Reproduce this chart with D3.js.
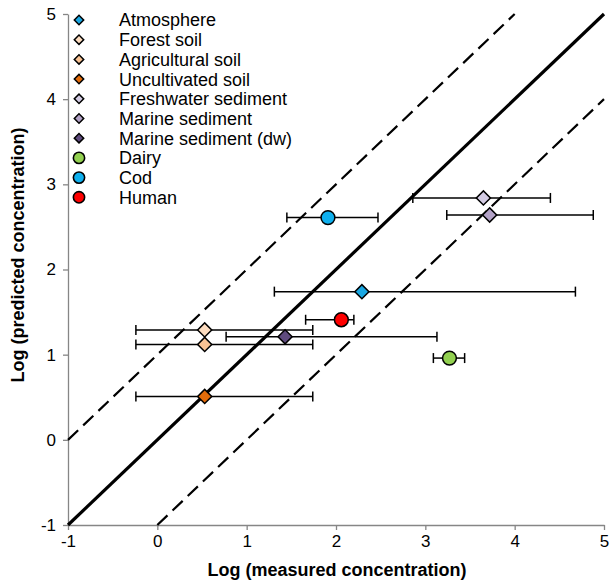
<!DOCTYPE html>
<html><head><meta charset="utf-8">
<script src="https://cdn.jsdelivr.net/npm/d3@7"></script>
<style>body{margin:0;background:#fff}svg{display:block}text{font-family:"Liberation Sans",Arial,sans-serif}</style>
</head><body><svg id="c" width="611" height="582"></svg>
<script>
const names = ["Atmosphere","Forest soil","Agricultural soil","Uncultivated soil","Freshwater sediment","Marine sediment","Marine sediment (dw)","Dairy","Cod","Human"];
const shapes = ["diamond","diamond","diamond","diamond","diamond","diamond","diamond","circle","circle","circle"];
const colors = ["#1AA7E2","#FDDCBF","#FAC394","#E46C0A","#D3CBE3","#B3A2C7","#5F4B7E","#92D050","#0FB0EE","#FF0000"];
const measured = [2.29,0.53,0.53,0.53,3.65,3.72,1.43,3.27,1.91,2.06];
const predicted = [1.74,1.29,1.12,0.51,2.84,2.64,1.21,0.96,2.61,1.41];
const errLow = [1.31,-0.24,-0.24,-0.24,2.86,3.24,0.77,3.09,1.45,1.66];
const errHigh = [4.68,1.74,1.74,1.74,4.40,4.88,3.13,3.44,2.47,2.20];
const ticks = [-1,0,1,2,3,4,5];

const svg = d3.select("#c");
const x = d3.scaleLinear().domain([-1,5]).range([68,604]);
const y = d3.scaleLinear().domain([-1,5]).range([525,14]);

// axes
const fmt = d => String(d);
const gx = svg.append("g").attr("transform","translate(0,525)")
  .call(d3.axisBottom(x).tickValues(ticks).tickSize(5).tickSizeOuter(0).tickFormat(fmt));
const gy = svg.append("g").attr("transform","translate(68,0)")
  .call(d3.axisLeft(y).tickValues(ticks).tickSize(5).tickSizeOuter(0).tickFormat(fmt));
[gx,gy].forEach(g=>{
  g.selectAll("path,line").attr("stroke","#868686").attr("stroke-width",1.3);
  g.selectAll("text").attr("font-size",17).attr("fill","#000").style("font-family","'Liberation Sans',Arial,sans-serif");
});
gx.selectAll("text").attr("dy","0.8em");
gy.selectAll("text").attr("dx","-4");

// reference lines
const ln = d3.line().x(d=>x(d[0])).y(d=>y(d[1]));
svg.append("path").attr("d",ln([[-1,0],[4,5]])).attr("stroke","#000").attr("stroke-width",2.2).attr("stroke-dasharray","14,7").attr("fill","none");
svg.append("path").attr("d",ln([[0,-1],[5,4]])).attr("stroke","#000").attr("stroke-width",2.2).attr("stroke-dasharray","14,7").attr("fill","none");
svg.append("path").attr("d",ln([[-1,-1],[5,5]])).attr("stroke","#000").attr("stroke-width",3.2).attr("fill","none");

// error bars and points
const data = names.map((n,i)=>({n,s:shapes[i],c:colors[i],x:measured[i],y:predicted[i],lo:errLow[i],hi:errHigh[i]}));
const eb = svg.append("g").attr("stroke","#000").attr("stroke-width",1.5);
data.forEach(d=>{
  eb.append("line").attr("x1",x(d.lo)).attr("x2",x(d.hi)).attr("y1",y(d.y)).attr("y2",y(d.y));
  [d.lo,d.hi].forEach(v=>eb.append("line").attr("x1",x(v)).attr("x2",x(v)).attr("y1",y(d.y)-5).attr("y2",y(d.y)+5));
});
svg.append("g").selectAll("path").data(data).join("path")
  .attr("d",d=>d3.symbol().type(d.s==="diamond"?d3.symbolSquare:d3.symbolCircle).size(d.s==="diamond"?100:150)())
  .attr("transform",d=>`translate(${x(d.x)},${y(d.y)})`+(d.s==="diamond"?" rotate(45)":""))
  .attr("fill",d=>d.c).attr("stroke","#000").attr("stroke-width",1.5);

// legend
const lg = svg.append("g");
data.forEach((d,i)=>{
  const yy = 20 + i*19.7;
  lg.append("path").attr("d",d3.symbol().type(d.s==="diamond"?d3.symbolSquare:d3.symbolCircle).size(d.s==="diamond"?44:100)())
    .attr("transform",`translate(79,${yy})`+(d.s==="diamond"?" rotate(45)":""))
    .attr("fill",d.c).attr("stroke","#000").attr("stroke-width",d.s==="diamond"?1.5:1.6);
  lg.append("text").attr("x",119).attr("y",yy).attr("dy","0.36em").attr("font-size",18).text(d.n);
});

// axis titles
svg.append("text").attr("x",337).attr("y",576).attr("text-anchor","middle").attr("font-size",18).attr("font-weight","bold").text("Log (measured concentration)");
svg.append("text").attr("transform","translate(24,255) rotate(-90)").attr("text-anchor","middle").attr("font-size",18).attr("font-weight","bold").text("Log (predicted concentration)");
</script></body></html>
